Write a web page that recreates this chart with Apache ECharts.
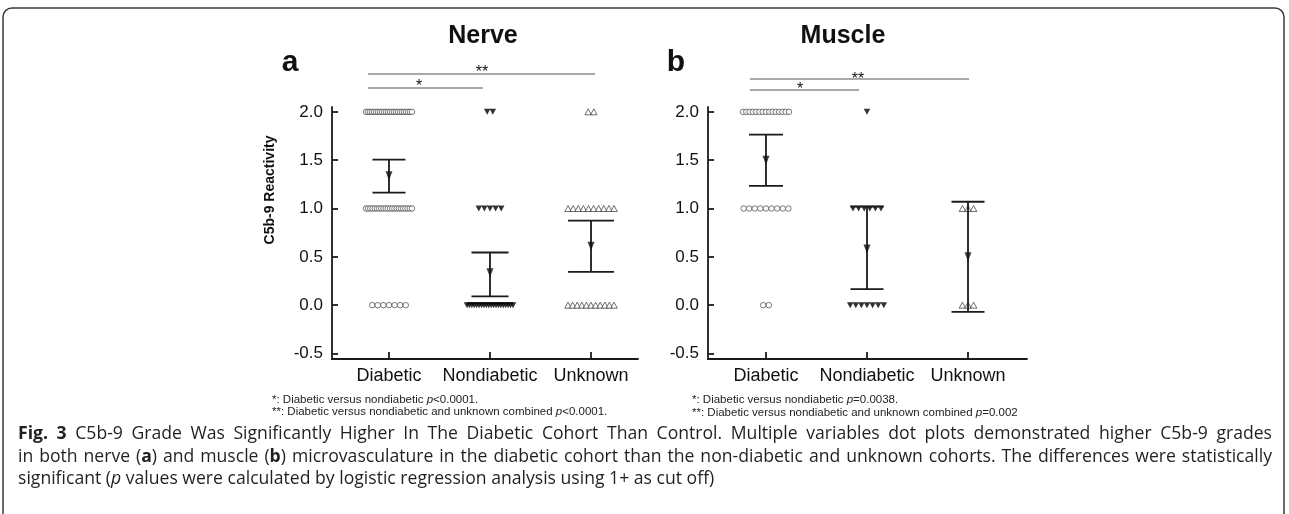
<!DOCTYPE html>
<html><head><meta charset="utf-8">
<script src="https://cdn.jsdelivr.net/npm/echarts@6/dist/echarts.min.js"></script>
<style>html,body{margin:0;padding:0;background:#fff}#c{width:1289px;height:514px}</style>
</head><body><div id="c"></div>
<script>
// ---------- data ----------
const categories = ['Diabetic', 'Nondiabetic', 'Unknown'];
const grades = [0, 1, 2];
const yTicks = [-0.5, 0, 0.5, 1, 1.5, 2];
const xTicks = [1, 2, 3];
// number of samples at grade 0, 1, 2
const nerveDiabeticCounts = [7, 22, 24];
const nerveNondiabeticCounts = [20, 5, 2];
const nerveUnknownCounts = [11, 10, 2];
const muscleDiabeticCounts = [2, 9, 15];
const muscleNondiabeticCounts = [7, 6, 1];
const muscleUnknownCounts = [3, 3, 0];
// mean and interval per group
const nerveMean = [1.34, 0.335, 0.61];
const nerveLower = [1.165, 0.09, 0.345];
const nerveUpper = [1.505, 0.545, 0.875];
const muscleMean = [1.5, 0.58, 0.5];
const muscleLower = [1.235, 0.165, -0.07];
const muscleUpper = [1.765, 1.02, 1.07];

// ---------- helpers ----------
function buildPoints(counts, xVal) {
  const out = [];
  grades.forEach((g, gi) => {
    const n = counts[gi];
    const sp = n > 1 ? Math.min(5.6, 46 / (n - 1)) : 0;
    for (let k = 0; k < n; k++) {
      out.push({ value: [xVal, g], symbolOffset: [(k - (n - 1) / 2) * sp, 0] });
    }
  });
  return out;
}
const circleStyle = { symbol: 'circle', symbolSize: 5.5, itemStyle: { color: '#fff', borderColor: '#444', borderWidth: 0.9 } };
const downTri = { symbol: 'triangle', symbolRotate: 180, symbolSize: [6.5, 6], itemStyle: { color: '#000' } };
const openTri = { symbol: 'triangle', symbolSize: [6.5, 6], itemStyle: { color: '#fff', borderColor: '#333', borderWidth: 0.9 } };

function scatter(idx, counts, xVal, st) {
  return Object.assign({ type: 'scatter', xAxisIndex: idx, yAxisIndex: idx, z: 2, silent: true,
    data: buildPoints(counts, xVal) }, JSON.parse(JSON.stringify(st)));
}
function errorBars(idx, lower, upper, caps) {
  return {
    type: 'custom', xAxisIndex: idx, yAxisIndex: idx, z: 3, silent: true,
    data: xTicks.map((x, i) => [x, lower[i], upper[i]]),
    renderItem(params, api) {
      const t = api.coord([api.value(0), api.value(2)]);
      const b = api.coord([api.value(0), api.value(1)]);
      const cw = caps[params.dataIndex] / 2;
      const st = { stroke: '#1a1a1a', lineWidth: 1.8 };
      return { type: 'group', children: [
        { type: 'line', shape: { x1: t[0], y1: t[1], x2: b[0], y2: b[1] }, style: st },
        { type: 'line', shape: { x1: t[0] - cw, y1: t[1], x2: t[0] + cw, y2: t[1] }, style: st },
        { type: 'line', shape: { x1: b[0] - cw, y1: b[1], x2: b[0] + cw, y2: b[1] }, style: st }
      ]};
    }
  };
}
function means(idx, m) {
  return { type: 'scatter', xAxisIndex: idx, yAxisIndex: idx, z: 4, silent: true,
    symbol: 'triangle', symbolRotate: 180, symbolSize: [7, 9], itemStyle: { color: '#111' },
    data: xTicks.map((x, i) => [x, m[i]]) };
}

const axisFont = '"Liberation Sans", Arial, sans-serif';
function xAxis(idx, min, max) {
  return { type: 'value', gridIndex: idx, min, max,
    axisLine: { show: true, onZero: false, lineStyle: { color: '#1a1a1a', width: 1.8 } },
    axisTick: { show: true, inside: true, length: 7, customValues: xTicks, lineStyle: { color: '#1a1a1a', width: 1.8 } },
    axisLabel: { customValues: xTicks, formatter: v => categories[Math.round(v) - 1], fontSize: 18, color: '#111', margin: 8, fontFamily: axisFont },
    splitLine: { show: false } };
}
function yAxis(idx) {
  return { type: 'value', gridIndex: idx, min: -0.557, max: 2.05,
    axisLine: { show: true, onZero: false, lineStyle: { color: '#1a1a1a', width: 1.8 } },
    axisTick: { show: true, inside: true, length: 6, customValues: yTicks, lineStyle: { color: '#1a1a1a', width: 1.8 } },
    axisLabel: { customValues: yTicks, formatter: v => v.toFixed(1), fontSize: 17, color: '#111', margin: 9, fontFamily: axisFont },
    splitLine: { show: false } };
}

// ---------- caption (justified) ----------
const capFont = '"Open Sans", sans-serif';
const capSize = 17.6;
const ctx = document.createElement('canvas').getContext('2d');
function segFont(k) { return (k === 'i' ? 'italic ' : '') + (k === 'b' ? 'bold ' : '') + capSize + 'px ' + capFont; }
function measureRich(s) {
  let w = 0, last = 0; const re = /\{(\w)\|([^}]*)\}/g; let m;
  while ((m = re.exec(s))) {
    ctx.font = segFont('n'); w += ctx.measureText(s.slice(last, m.index)).width;
    ctx.font = segFont(m[1]); w += ctx.measureText(m[2]).width;
    last = re.lastIndex;
  }
  ctx.font = segFont('n'); w += ctx.measureText(s.slice(last)).width;
  return w;
}
const capRich = { b: { fontWeight: 'bold', fontSize: capSize, fontFamily: capFont, fill: '#231f20' },
                  i: { fontStyle: 'italic', fontSize: capSize, fontFamily: capFont, fill: '#231f20' } };
const capLines = [
  '{b|Fig.} {b|3} C5b-9 Grade Was Significantly Higher In The Diabetic Cohort Than Control. Multiple variables dot plots demonstrated higher C5b-9 grades',
  'in both nerve ({b|a}) and muscle ({b|b}) microvasculature in the diabetic cohort than the non-diabetic and unknown cohorts. The differences were statistically',
  'significant ({i|p} values were calculated by logistic regression analysis using 1+ as cut off)'
];
const capX = 18, capRight = 1272, capYs = [434, 457, 479];
const capGraphics = [];
capLines.forEach((line, li) => {
  if (li === capLines.length - 1) {
    capGraphics.push({ type: 'text', x: capX, y: capYs[li], silent: true,
      style: { text: line, font: capSize + 'px ' + capFont, fill: '#231f20', verticalAlign: 'middle', rich: capRich } });
    return;
  }
  const words = line.split(' ');
  const ws = words.map(measureRich);
  const total = ws.reduce((a, b) => a + b, 0);
  const gap = (capRight - capX - total) / (words.length - 1);
  let x = capX;
  words.forEach((w, i) => {
    capGraphics.push({ type: 'text', x, y: capYs[li], silent: true,
      style: { text: w, font: capSize + 'px ' + capFont, fill: '#231f20', verticalAlign: 'middle', rich: capRich } });
    x += ws[i] + gap;
  });
});

function txt(x, y, text, font, extra) {
  return Object.assign({ type: 'text', x, y, silent: true,
    style: Object.assign({ text, font, fill: '#111', align: 'center', verticalAlign: 'middle' }, extra || {}) });
}
const noteRich = { i: { fontStyle: 'italic', fontSize: 11.5, fontFamily: axisFont, fill: '#222' } };
function note(x, y, text) {
  return { type: 'text', x, y, silent: true,
    style: { text, font: '11.5px ' + axisFont, fill: '#222', verticalAlign: 'middle', rich: noteRich } };
}
function hline(x1, x2, y) {
  return { type: 'line', silent: true, shape: { x1, y1: y, x2, y2: y }, style: { stroke: '#555', lineWidth: 1.1 } };
}

const graphics = [
  { type: 'rect', silent: true, shape: { x: 3, y: 8, width: 1281, height: 530, r: 9 }, style: { fill: 'none', stroke: '#3a3a3a', lineWidth: 1.5 } },
  txt(483, 36, 'Nerve', 'bold 25px ' + axisFont),
  txt(843, 36.5, 'Muscle', 'bold 25px ' + axisFont),
  txt(290, 62.5, 'a', 'bold 30px ' + axisFont),
  txt(676, 62.5, 'b', 'bold 30px ' + axisFont),
  Object.assign(txt(270, 190, 'C5b-9 Reactivity', 'bold 14px ' + axisFont), { rotation: Math.PI / 2 }),
  hline(368, 595, 74), hline(368, 483, 88),
  txt(482, 72.5, '**', '16px ' + axisFont), txt(419, 86.5, '*', '16px ' + axisFont),
  hline(750, 969, 79), hline(750, 859, 90),
  txt(858, 79.5, '**', '16px ' + axisFont), txt(800, 90, '*', '16px ' + axisFont),
  note(272, 399.5, '*: Diabetic versus nondiabetic {i|p}<0.0001.'),
  note(272, 412, '**: Diabetic versus nondiabetic and unknown combined {i|p}<0.0001.'),
  note(692, 400, '*: Diabetic versus nondiabetic {i|p}=0.0038.'),
  note(692, 412.5, '**: Diabetic versus nondiabetic and unknown combined {i|p}=0.002')
].concat(capGraphics);

const chart = echarts.init(document.getElementById('c'), null, { renderer: 'canvas' });
chart.setOption({
  animation: false,
  backgroundColor: '#fff',
  grid: [
    { left: 332, top: 107, width: 306, height: 252 },
    { left: 708, top: 107, width: 319, height: 252 }
  ],
  xAxis: [xAxis(0, 0.436, 3.465), xAxis(1, 0.426, 3.584)],
  yAxis: [yAxis(0), yAxis(1)],
  series: [
    scatter(0, nerveDiabeticCounts, 1, circleStyle),
    scatter(0, nerveNondiabeticCounts, 2, downTri),
    scatter(0, nerveUnknownCounts, 3, openTri),
    errorBars(0, nerveLower, nerveUpper, [33, 37, 46]),
    means(0, nerveMean),
    scatter(1, muscleDiabeticCounts, 1, circleStyle),
    scatter(1, muscleNondiabeticCounts, 2, downTri),
    scatter(1, muscleUnknownCounts, 3, openTri),
    errorBars(1, muscleLower, muscleUpper, [34, 33, 33]),
    means(1, muscleMean)
  ],
  graphic: graphics
});
</script>
</body></html>
